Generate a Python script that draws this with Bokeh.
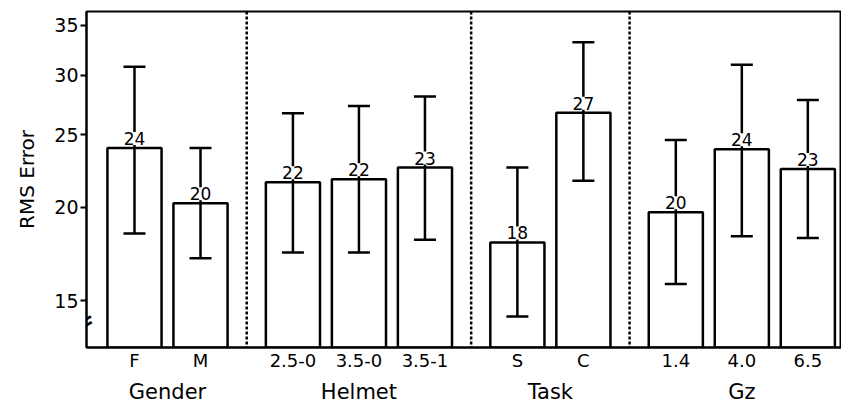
from bokeh.plotting import figure
from bokeh.models import (Range1d, FixedTicker, LinearAxis, Span, Label,
                          ColumnDataSource, BasicTickFormatter)
from bokeh.embed import file_html
from bokeh.resources import INLINE
from bokeh.core.properties import value

# ---- data ----
groups = ["Gender", "Helmet", "Task", "Gz"]
group_sizes = [2, 3, 2, 3]
categories = ["F", "M", "2.5-0", "3.5-0", "3.5-1", "S", "C", "1.4", "4.0", "6.5"]
means = [24.0, 20.25, 21.6, 21.8, 22.6, 17.95, 26.75, 19.7, 23.9, 22.5]
err_low = [18.45, 17.1, 17.4, 17.4, 18.1, 14.3, 21.7, 15.8, 18.3, 18.2]
err_high = [30.8, 24.0, 26.7, 27.3, 28.1, 22.6, 33.2, 24.6, 31.0, 27.8]
mean_labels = ["24", "20", "22", "22", "23", "18", "27", "20", "24", "23"]
y_ticks = [15, 20, 25, 30, 35]
y_min, y_max = 13.0, 36.5
x_start, x_end = -0.727, 10.71

FONT = "DejaVu Sans"

# ---- positions from group structure ----
GAP = 0.4
xs, group_centers, seps = [], [], []
pos = 0.0
for gi, n in enumerate(group_sizes):
    members = [round(pos + k, 3) for k in range(n)]
    xs.extend(members)
    group_centers.append(round(sum(members) / n, 3))
    last = members[-1]
    if gi < len(group_sizes) - 1:
        seps.append(round(last + (1 + GAP) / 2, 3))
    pos = last + 1 + GAP

src = ColumnDataSource(dict(x=xs, top=means, lo=err_low, hi=err_high,
                            lab=mean_labels, bottom=[y_min] * len(xs)))

p = figure(width=841, height=407, y_axis_type="log",
           x_range=Range1d(x_start, x_end), y_range=Range1d(y_min, y_max),
           output_backend="svg", toolbar_location=None,
           min_border_left=86, min_border_top=11, min_border_right=0,
           min_border_bottom=60)
p.grid.visible = False
p.outline_line_color = "black"
p.outline_line_width = 2
p.background_fill_color = "white"

# bars
p.vbar(x="x", top="top", bottom="bottom", width=0.82, source=src,
       fill_color="white", line_color="black", line_width=2.5)
# error bars
p.segment(x0="x", x1="x", y0="lo", y1="hi", source=src,
          line_color="black", line_width=2.5)
p.scatter(x="x", y="lo", source=src, marker="dash", size=22,
          line_color="black", line_width=2.5)
p.scatter(x="x", y="hi", source=src, marker="dash", size=22,
          line_color="black", line_width=2.5)
# value labels
p.text(x="x", y="top", text="lab", source=src, text_align="center",
       text_baseline="bottom", y_offset=-3, text_font=value(FONT),
       text_font_size="17px", text_color="black",
       background_fill_color="white")

# group separators
for s in seps:
    p.add_layout(Span(location=s, dimension="height", line_color="black",
                      line_width=2.5, line_dash="3 2"))

# y axis
p.yaxis.ticker = FixedTicker(ticks=y_ticks)
p.yaxis.formatter = BasicTickFormatter()
p.yaxis.minor_tick_line_color = None
p.yaxis.major_tick_in = 0
p.yaxis.major_tick_out = 6
p.yaxis.major_tick_line_width = 2
p.yaxis.axis_line_width = 2
p.yaxis.major_label_text_font = FONT
p.yaxis.major_label_text_font_size = "19px"
p.yaxis.major_label_text_color = "black"
p.yaxis.major_label_standoff = 2
p.yaxis.axis_label = "RMS Error"
p.yaxis.axis_label_text_font = FONT
p.yaxis.axis_label_text_font_size = "20px"
p.yaxis.axis_label_text_font_style = "normal"
p.yaxis.axis_label_text_color = "black"
p.yaxis.axis_label_standoff = 12

# x axis (categories)
p.xaxis.ticker = FixedTicker(ticks=xs)
p.xaxis.major_label_overrides = {x: c for x, c in zip(xs, categories)}
p.xaxis.major_tick_line_color = None
p.xaxis.minor_tick_line_color = None
p.xaxis.major_tick_out = 0
p.xaxis.major_tick_in = 0
p.xaxis.axis_line_width = 2
p.xaxis.major_label_text_font = FONT
p.xaxis.major_label_text_font_size = "18px"
p.xaxis.major_label_text_color = "black"
p.xaxis.major_label_standoff = 2

# group axis
gax = LinearAxis(ticker=FixedTicker(ticks=group_centers),
                 major_label_overrides={x: g for x, g in zip(group_centers, groups)},
                 axis_line_color=None, major_tick_line_color=None,
                 minor_tick_line_color=None, major_tick_out=0, major_tick_in=0,
                 major_label_text_font=FONT, major_label_text_font_size="21px",
                 major_label_text_color="black",
                 major_label_standoff=6)
p.add_layout(gax, "below")

# axis break mark (decoration on the broken y axis)
for dpx, dxo in [(27.3, -4.3), (21.5, -3.5)]:
    p.add_layout(Label(x=x_start, y=y_min * 10 ** (dpx / 749.0), x_offset=dxo,
                       text="\u2014", text_font=FONT, text_font_size="21px",
                       text_font_style="bold", text_color="black",
                       text_align="center", text_baseline="middle",
                       angle=0.535))

open("out.html", "w").write(file_html(p, INLINE))
